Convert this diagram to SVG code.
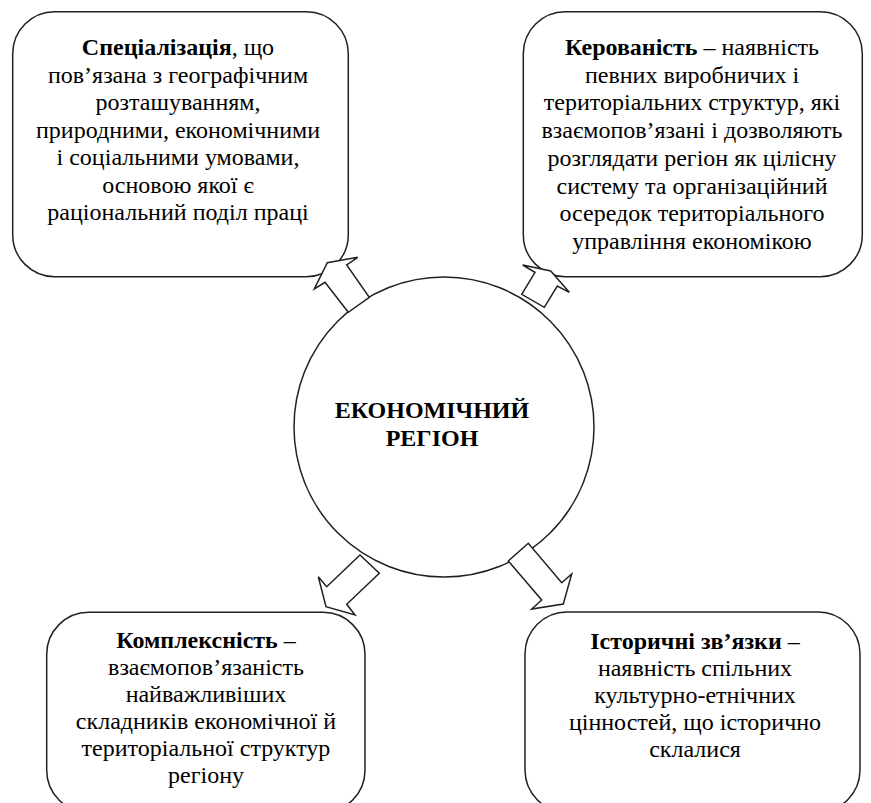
<svg xmlns="http://www.w3.org/2000/svg" width="871" height="803" viewBox="0 0 871 803">
<rect width="871" height="803" fill="#fff"/>
<g id="node-center">
<circle cx="444" cy="427" r="150" fill="#fff" stroke="#231f20" stroke-width="1.5"/>
<text x="432" y="418" font-size="24" font-family="Liberation Serif" font-weight="bold" text-anchor="middle">ЕКОНОМІЧНИЙ</text>
<text x="432" y="446" font-size="24" font-family="Liberation Serif" font-weight="bold" text-anchor="middle">РЕГІОН</text>
</g>
<g id="node-specialization">
<rect x="12.7" y="11.7" width="335.6" height="265" rx="42" ry="42" fill="#fff" stroke="#231f20" stroke-width="1.5"/>
<text x="178" y="55" font-size="24" font-family="Liberation Serif" text-anchor="middle"><tspan font-weight="bold">Спеціалізація</tspan>, що</text>
<text x="178" y="82.5" font-size="24" font-family="Liberation Serif" text-anchor="middle">пов’язана з географічним</text>
<text x="178" y="110" font-size="24" font-family="Liberation Serif" text-anchor="middle">розташуванням,</text>
<text x="178" y="137.5" font-size="24" font-family="Liberation Serif" text-anchor="middle">природними, економічними</text>
<text x="178" y="165" font-size="24" font-family="Liberation Serif" text-anchor="middle">і соціальними умовами,</text>
<text x="178" y="192.5" font-size="24" font-family="Liberation Serif" text-anchor="middle">основою якої є</text>
<text x="178" y="220" font-size="24" font-family="Liberation Serif" text-anchor="middle">раціональний поділ праці</text>
</g>
<g id="node-controllability">
<rect x="523.3" y="11.7" width="339" height="265" rx="42" ry="42" fill="#fff" stroke="#231f20" stroke-width="1.5"/>
<text x="692" y="55" font-size="24" font-family="Liberation Serif" text-anchor="middle"><tspan font-weight="bold">Керованість</tspan> – наявність</text>
<text x="692" y="82.7" font-size="24" font-family="Liberation Serif" text-anchor="middle">певних виробничих і</text>
<text x="692" y="110.4" font-size="24" font-family="Liberation Serif" text-anchor="middle">територіальних структур, які</text>
<text x="692" y="138.1" font-size="24" font-family="Liberation Serif" text-anchor="middle">взаємопов’язані і дозволяють</text>
<text x="692" y="165.8" font-size="24" font-family="Liberation Serif" text-anchor="middle">розглядати регіон як цілісну</text>
<text x="692" y="193.5" font-size="24" font-family="Liberation Serif" text-anchor="middle">систему та організаційний</text>
<text x="692" y="221.2" font-size="24" font-family="Liberation Serif" text-anchor="middle">осередок територіального</text>
<text x="692" y="249" font-size="24" font-family="Liberation Serif" text-anchor="middle">управління економікою</text>
</g>
<g id="node-complexity">
<rect x="46.7" y="612.3" width="318.3" height="200" rx="42" ry="42" fill="#fff" stroke="#231f20" stroke-width="1.5"/>
<text x="206" y="648" font-size="24" font-family="Liberation Serif" text-anchor="middle"><tspan font-weight="bold">Комплексність</tspan> –</text>
<text x="206" y="675" font-size="24" font-family="Liberation Serif" text-anchor="middle">взаємопов’язаність</text>
<text x="206" y="702" font-size="24" font-family="Liberation Serif" text-anchor="middle">найважливіших</text>
<text x="206" y="729" font-size="24" font-family="Liberation Serif" text-anchor="middle">складників економічної й</text>
<text x="206" y="756" font-size="24" font-family="Liberation Serif" text-anchor="middle">територіальної структур</text>
<text x="206" y="783" font-size="24" font-family="Liberation Serif" text-anchor="middle">регіону</text>
</g>
<g id="node-historical">
<rect x="525" y="612" width="335" height="200" rx="42" ry="42" fill="#fff" stroke="#231f20" stroke-width="1.5"/>
<text x="695" y="649" font-size="24" font-family="Liberation Serif" text-anchor="middle"><tspan font-weight="bold">Історичні зв’язки</tspan> –</text>
<text x="695" y="676" font-size="24" font-family="Liberation Serif" text-anchor="middle">наявність спільних</text>
<text x="695" y="703" font-size="24" font-family="Liberation Serif" text-anchor="middle">культурно-етнічних</text>
<text x="695" y="730" font-size="24" font-family="Liberation Serif" text-anchor="middle">цінностей, що історично</text>
<text x="695" y="757" font-size="24" font-family="Liberation Serif" text-anchor="middle">склалися</text>
</g>
<g id="connectors" fill="#fff" stroke="#231f20" stroke-width="1.5">
<polygon points="348.3,312.3 325,282.3 314.3,289 327.3,262.7 357.7,257.3 346.7,265 369.3,297.3"/>
<polygon points="521.7,294.3 535,272.3 522.7,265 550.7,271 569.3,292.3 557.3,286 544.3,307.3"/>
<polygon points="360,555 326.7,586.7 318.3,576.7 326,606.7 355,615 346.7,604.3 379.3,573.3"/>
<polygon points="508.3,561 541.7,600 531.7,609 563.3,604 571.7,574 561.7,582.7 528.3,543.3"/>
</g>
</svg>
